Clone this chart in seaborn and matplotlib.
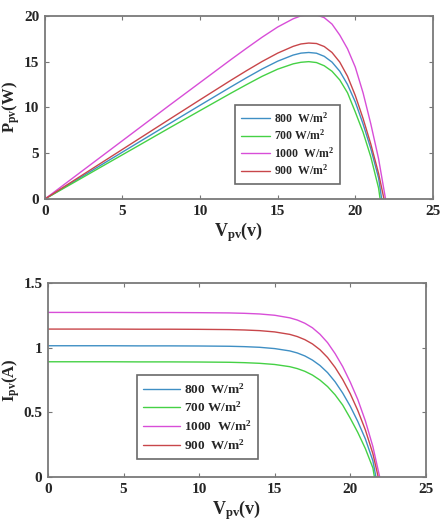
import matplotlib
matplotlib.use("Agg")
import matplotlib.pyplot as plt
import seaborn as sns
import pandas as pd

# ---- data ----
series = ["800  W/m$^{\\mathbf{2}}$", "700 W/m$^{\\mathbf{2}}$", "1000  W/m$^{\\mathbf{2}}$", "900  W/m$^{\\mathbf{2}}$"]
colors = ["#3f8fc4", "#45d145", "#d84ed8", "#c8464a"]

v_grid = [0, 2, 4, 6, 8, 10, 12, 13, 14, 15, 16, 16.5, 17, 17.5, 18, 18.5, 19, 19.5, 20, 20.5, 21, 21.5]
voc_800 = 21.7
voc_700 = 21.6
voc_1000 = 21.95
voc_900 = 21.85

# P-V curves (W)
p_800 = [0, 2.05, 4.1, 6.15, 8.2, 10.24, 12.26, 13.25, 14.2, 15.05, 15.72, 15.93, 16.0, 15.92, 15.58, 14.95, 13.95, 12.5, 10.6, 8.2, 5.5, 2.3, 0]
p_700 = [0, 1.93, 3.87, 5.8, 7.74, 9.66, 11.57, 12.5, 13.4, 14.18, 14.76, 14.93, 15.0, 14.9, 14.55, 13.95, 13.0, 11.6, 9.5, 7.3, 4.6, 1.2, 0]
p_1000 = [0, 2.55, 5.1, 7.65, 10.2, 12.72, 15.24, 16.47, 17.67, 18.78, 19.68, 20.0, 20.12, 20.1, 19.8, 19.1, 17.9, 16.4, 14.4, 11.6, 8.2, 4.4, 0]
p_900 = [0, 2.17, 4.34, 6.51, 8.68, 10.84, 12.98, 14.02, 15.02, 15.93, 16.67, 16.93, 17.03, 16.98, 16.65, 16.0, 14.95, 13.4, 11.3, 8.8, 6.0, 2.8, 0]

# I-V curves (A)
i_800 = [1.016, 1.016, 1.016, 1.015, 1.015, 1.014, 1.012, 1.009, 1.004, 0.994, 0.976, 0.960, 0.937, 0.905, 0.863, 0.808, 0.737, 0.650, 0.548, 0.430, 0.295, 0.125, 0]
i_700 = [0.892, 0.892, 0.892, 0.891, 0.891, 0.890, 0.888, 0.885, 0.880, 0.871, 0.854, 0.839, 0.818, 0.789, 0.750, 0.700, 0.636, 0.557, 0.455, 0.345, 0.220, 0.07, 0]
i_1000 = [1.274, 1.274, 1.274, 1.273, 1.273, 1.272, 1.270, 1.267, 1.262, 1.252, 1.232, 1.215, 1.190, 1.155, 1.105, 1.040, 0.955, 0.855, 0.735, 0.600, 0.435, 0.235, 0]
i_900 = [1.145, 1.145, 1.145, 1.144, 1.144, 1.143, 1.141, 1.138, 1.133, 1.123, 1.104, 1.087, 1.063, 1.030, 0.985, 0.925, 0.848, 0.755, 0.645, 0.515, 0.365, 0.18, 0]

x_ticks = [0, 5, 10, 15, 20, 25]
p_ticks = [0, 5, 10, 15, 20]
i_ticks = [0, 0.5, 1, 1.5]

# ---- build long tables ----
vocs = [voc_800, voc_700, voc_1000, voc_900]
p_vals = [p_800, p_700, p_1000, p_900]
i_vals = [i_800, i_700, i_1000, i_900]
rows_p, rows_i = [], []
for name, voc, pv, iv in zip(series, vocs, p_vals, i_vals):
    vs = v_grid + [voc]
    for v, p, c in zip(vs, pv, iv):
        rows_p.append({"V": v, "P": p, "G": name})
        rows_i.append({"V": v, "I": c, "G": name})
df_p = pd.DataFrame(rows_p)
df_i = pd.DataFrame(rows_i)

sns.set_theme(style="white")
plt.rcParams["font.family"] = ["Liberation Serif", "DejaVu Serif"]
plt.rcParams["mathtext.fontset"] = "custom"
plt.rcParams["mathtext.rm"] = "Liberation Serif:bold"
plt.rcParams["mathtext.bf"] = "Liberation Serif:bold"
plt.rcParams["mathtext.it"] = "Liberation Serif:bold"

fig = plt.figure(figsize=(4.44, 5.28), dpi=100)
ax1 = fig.add_axes([0.101, 0.623, 0.874, 0.347])
ax2 = fig.add_axes([0.108, 0.0966, 0.851, 0.367])

pal = dict(zip(series, colors))
sns.lineplot(data=df_p, x="V", y="P", hue="G", hue_order=series, palette=pal,
             ax=ax1, lw=1.0, sort=False, estimator=None)
sns.lineplot(data=df_i, x="V", y="I", hue="G", hue_order=series, palette=pal,
             ax=ax2, lw=1.0, sort=False, estimator=None)

def style(ax, yticks, ylim, ylabel, ylab_x):
    ax.set_xlim(0, 25)
    ax.set_ylim(*ylim)
    ax.set_xticks(x_ticks)
    ax.set_yticks(yticks)
    ax.set_xticklabels([f"{t:g}" for t in x_ticks], fontsize=11, fontweight="bold")
    ax.set_yticklabels([f"{t:g}" for t in yticks], fontsize=11, fontweight="bold")
    ax.tick_params(direction="in", length=3, width=0.8, color="#777777",
                   top=True, right=True, bottom=True, left=True, pad=4)
    for s in ax.spines.values():
        s.set_color("#7a7a7a")
        s.set_linewidth(1.3)
        s.set_visible(True)
    ax.set_xlabel(r"$\mathbf{V_{pv}}$(v)", fontsize=13, fontweight="bold", labelpad=2)
    ax.set_ylabel(ylabel, fontsize=12, fontweight="bold")
    ax.yaxis.set_label_coords(ylab_x, 0.5)

style(ax1, p_ticks, (0, 20), r"$\mathbf{P_{pv}}$(W)", -0.058)
style(ax2, i_ticks, (0, 1.5), r"$\mathbf{I_{pv}}$(A)", -0.070)

leg1 = ax1.legend(loc="upper left", bbox_to_anchor=(0.49, 0.515), borderaxespad=0,
                  prop={"family": "Liberation Serif", "weight": "bold", "size": 8.5},
                  fancybox=False, handlelength=2.5, handletextpad=0.3, labelspacing=0.25,
                  borderpad=0.5, frameon=True)
leg2 = ax2.legend(loc="upper left", bbox_to_anchor=(0.235, 0.526), borderaxespad=0,
                  prop={"family": "Liberation Serif", "weight": "bold", "size": 9.5},
                  fancybox=False, handlelength=2.8, handletextpad=0.3, labelspacing=0.32,
                  borderpad=0.5, frameon=True)
for lg in (leg1, leg2):
    lg.get_frame().set_edgecolor("#6a6a6a")
    lg.get_frame().set_linewidth(1.2)
    lg.get_frame().set_alpha(1)

fig.savefig("out.png", dpi=100)
